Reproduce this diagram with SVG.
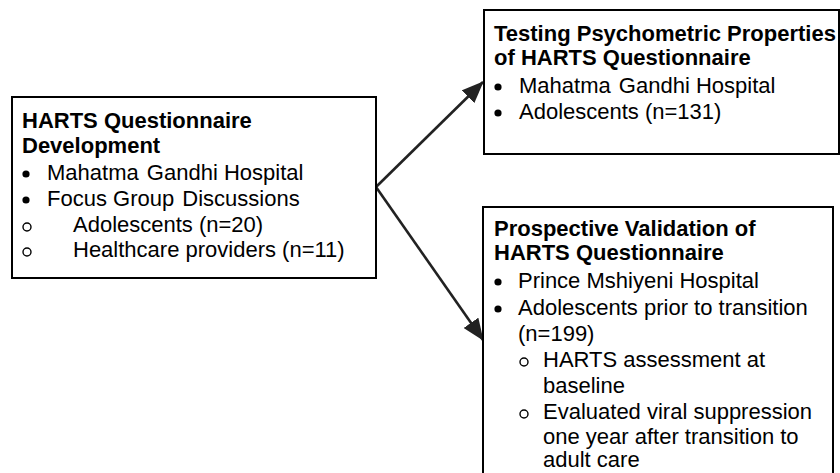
<svg xmlns="http://www.w3.org/2000/svg" width="840" height="473" viewBox="0 0 840 473">
<defs>
<style>
.box{fill:#fff;stroke:#000;stroke-width:2}
.t{font-family:"Liberation Sans",Arial,sans-serif;font-size:22px;fill:#000}
.b{font-weight:bold;font-size:22px}
.dot{fill:#000}
.ring{fill:none;stroke:#000;stroke-width:1.4}
.conn{stroke:#222;stroke-width:2.6;fill:none}
</style>
<marker id="ah" viewBox="0 0 22 18" refX="21" refY="9" markerWidth="22" markerHeight="18" markerUnits="userSpaceOnUse" orient="auto">
<path d="M0,0 L22,9 L0,18 z" fill="#222"/>
</marker>
</defs>
<rect width="840" height="473" fill="#fff"/>
<g id="connectors">
<line class="conn" x1="376" y1="187" x2="483" y2="82" marker-end="url(#ah)"/>
<line class="conn" x1="376" y1="187" x2="483" y2="340" marker-end="url(#ah)"/>
</g>
<g id="node-development">
<rect class="box" x="12" y="97" width="364" height="181"/>
<text class="t b" x="22" y="128">HARTS Questionnaire</text>
<text class="t b" x="22" y="153">Development</text>
<circle class="dot" cx="26" cy="174" r="3.6"/>
<text class="t" x="47" y="180">Mahatma <tspan dx="2">Gandhi Hospital</tspan></text>
<circle class="dot" cx="26" cy="200" r="3.6"/>
<text class="t" x="47" y="206">Focus Group <tspan dx="2">Discussions</tspan></text>
<circle class="ring" cx="27" cy="227" r="4"/>
<text class="t" x="73" y="232">Adolescents (n=20)</text>
<circle class="ring" cx="27" cy="252" r="4"/>
<text class="t" x="73" y="257">Healthcare providers (n=11)</text>
</g>
<g id="node-testing">
<rect class="box" x="484" y="10" width="355" height="144"/>
<text class="t b" x="494" y="41">Testing Psychometric Properties</text>
<text class="t b" x="494" y="65">of HARTS Questionnaire</text>
<circle class="dot" cx="498" cy="87" r="3.6"/>
<text class="t" x="519" y="93">Mahatma <tspan dx="2">Gandhi Hospital</tspan></text>
<circle class="dot" cx="498" cy="113" r="3.6"/>
<text class="t" x="519" y="119">Adolescents (n=131)</text>
</g>
<g id="node-validation">
<rect class="box" x="483" y="207" width="350" height="280"/>
<text class="t b" x="494" y="236">Prospective Validation of</text>
<text class="t b" x="494" y="260">HARTS Questionnaire</text>
<circle class="dot" cx="498" cy="282" r="3.6"/>
<text class="t" x="518" y="288">Prince Mshiyeni Hospital</text>
<circle class="dot" cx="498" cy="309" r="3.6"/>
<text class="t" x="518" y="315">Adolescents prior to transition</text>
<text class="t" x="518" y="341">(n=199)</text>
<circle class="ring" cx="524" cy="362" r="4"/>
<text class="t" x="543" y="367">HARTS assessment at</text>
<text class="t" x="543" y="393">baseline</text>
<circle class="ring" cx="524" cy="414" r="4"/>
<text class="t" x="543" y="419">Evaluated viral suppression</text>
<text class="t" x="543" y="444">one year after transition to</text>
<text class="t" x="543" y="467">adult care</text>
</g>
</svg>
